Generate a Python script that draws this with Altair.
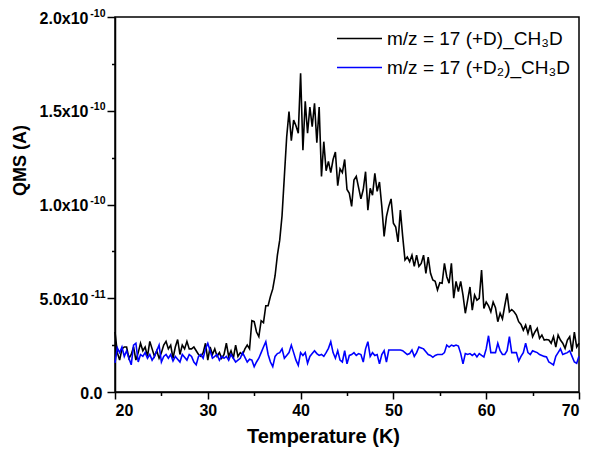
import altair as alt
import pandas as pd

# Temperature grid (K): 20 K to 70 K, sampled every 0.25 K
T_START = 20.0
T_STEP = 0.25

# QMS current in units of 1e-11 A
black_vals = [
    3.2, 2.1, 1.7, 2.3, 2.4, 2.4, 1.8, 2.0, 2.4, 1.7, 2.1, 2.6, 2.2, 2.4, 1.9, 2.7, 2.3, 1.9, 2.2, 1.8,
    2.1, 2.5, 2.7, 2.3, 2.5, 1.8, 2.4, 2.8, 2.0, 2.5, 2.3, 2.7, 2.3, 2.3, 2.4, 2.2, 2.0, 1.9, 2.1, 2.6,
    1.7, 2.4, 2.0, 2.3, 1.9, 2.1, 1.8, 2.0, 2.6, 1.9, 2.2, 1.8, 2.5, 1.9, 2.1, 2.0, 2.3, 2.5, 2.3, 3.8,
    3.75, 3.2, 2.95, 3.8, 3.7, 4.6, 4.6, 5.1, 5.5, 6.2, 7.3, 8.1, 9.4, 11.5, 13.6, 14.95, 13.4, 14.5, 14.2, 13.8,
    17.0, 12.9, 15.5, 13.8, 15.2, 14.15, 15.4, 13.3, 15.2, 11.5, 13.35, 11.8, 12.3, 11.7, 12.4, 12.8, 11.0, 11.9, 11.7, 12.4,
    10.8, 10.6, 9.9, 11.3, 11.5, 10.9, 10.3, 10.8, 11.75, 9.7, 10.86, 10.5, 11.66, 10.7, 11.2, 9.9, 8.3, 9.35, 9.9, 10.3,
    9.0, 8.8, 8.0, 9.7, 8.3, 7.04, 7.2, 6.95, 7.3, 6.7, 7.3, 6.7, 6.86, 7.3, 6.33, 7.2, 6.33, 5.97, 5.9, 5.44,
    5.83, 5.8, 6.86, 6.15, 5.8, 6.86, 5.0, 5.9, 5.35, 5.9, 5.17, 4.2, 4.9, 5.6, 4.37, 5.17, 4.9, 5.0, 6.5, 4.46,
    4.8, 4.6, 4.28, 4.8, 4.5, 3.75, 4.2, 3.9, 4.6, 5.26, 4.28, 4.4, 4.28, 4.1, 3.75, 3.6, 3.3, 3.57, 3.13, 3.57,
    2.95, 3.2, 3.4, 2.86, 3.04, 2.77, 2.8, 2.77, 2.6, 2.95, 2.4, 3.04, 2.77, 2.6, 2.33, 2.77, 2.95, 2.15, 3.2, 2.4,
    2.6,
]

blue_vals = [
    1.55, 2.35, 2.1, 2.4, 1.9, 2.2, 1.8, 1.45, 2.5, 2.6, 1.6, 2.0, 1.9, 2.1, 1.8, 2.0, 1.7, 1.9, 2.2, 2.5,
    1.6, 1.9, 2.0, 1.8, 2.0, 1.65, 1.9, 1.75, 1.6, 2.0, 1.85, 1.7, 2.0, 1.9, 1.6, 1.45, 1.9, 2.0, 1.8, 2.3,
    2.6, 2.2, 1.8, 1.9, 2.0, 1.7, 1.9, 1.8, 1.9, 1.7, 2.0, 1.8, 1.6, 1.7, 1.8, 2.1, 1.85, 1.6, 1.75, 1.7,
    1.35, 1.6, 1.8, 2.1, 2.4, 2.68, 2.0, 1.6, 1.35, 1.9, 2.05, 2.1, 2.3, 1.8, 1.95, 2.1, 2.5, 2.1, 1.7, 1.42,
    2.1, 1.95, 2.1, 1.53, 1.9, 2.05, 2.2, 2.05, 1.95, 2.0, 1.9, 2.1, 2.33, 2.68, 2.1, 1.8, 2.2, 1.7, 1.6, 2.2,
    1.5, 1.95, 2.0, 2.1, 1.95, 2.05, 2.0, 1.6, 2.3, 2.68, 1.9, 2.1, 1.95, 2.0, 1.5, 2.0, 2.2, 1.6, 2.24, 2.24,
    2.24, 2.24, 2.24, 2.24, 2.2, 2.1, 2.0, 2.05, 2.24, 1.9, 2.1, 2.4, 2.35, 2.3, 2.15, 2.0, 1.95, 1.85, 1.95, 2.0,
    2.0, 2.0, 2.1, 2.5, 2.4, 2.5, 2.45, 2.5, 2.45, 2.06, 1.5, 2.05, 2.0, 2.05, 1.95, 2.05, 1.87, 2.05, 1.95, 1.87,
    2.3, 3.0, 2.1, 2.1, 2.1, 2.6, 2.2, 2.0, 2.0, 2.2, 2.95, 2.1, 2.1, 2.1, 1.65, 1.9, 2.1, 2.6, 2.1, 2.0,
    2.2, 2.15, 2.1, 2.0, 1.95, 1.9, 1.87, 1.6, 1.53, 1.44, 1.9, 2.1, 2.3, 2.0, 2.05, 2.1, 2.2, 1.9, 1.6, 1.53,
    1.9,
]

label_d = "m/z = 17 (+D)_CH₃D"
label_d2 = "m/z = 17 (+D₂)_CH₃D"
series_labels = [label_d, label_d2]
series_colors = ["#000000", "#0000ff"]

x_ticks = [20, 25, 30, 35, 40, 45, 50, 55, 60, 65, 70]
y_ticks = [0, 2.5e-11, 5e-11, 7.5e-11, 1e-10, 1.25e-10, 1.5e-10, 1.75e-10, 2e-10]

temps = [T_START + T_STEP * i for i in range(len(black_vals))]
temps_b = [T_START + T_STEP * i for i in range(len(blue_vals))]

df = pd.DataFrame({
    "T": temps + temps_b,
    "I": [v * 1e-11 for v in black_vals] + [v * 1e-11 for v in blue_vals],
    "series": [label_d] * len(black_vals) + [label_d2] * len(blue_vals),
})

FONT = "Liberation Sans"
MINOR_Y = "round(datum.value*1e11/2.5) % 2 == 1"

# mantissa part of the y tick labels
y_main_expr = (
    "datum.value == 0 ? '0.0' : (" + MINOR_Y + ") ? '' : "
    "datum.value < 9e-11 ? format(datum.value*1e11, '.1f') + 'x10' : "
    "format(datum.value*1e10, '.1f') + 'x10'"
)
# exponent (superscript) part of the y tick labels
y_exp_expr = (
    "datum.value == 0 ? '' : (" + MINOR_Y + ") ? '' : "
    "datum.value < 9e-11 ? '-11' : '-10'"
)

x_scale = alt.Scale(domain=[20, 70], nice=False, zero=False)
y_scale = alt.Scale(domain=[0, 2e-10], nice=False, zero=True)

lines = alt.Chart(df).mark_line(strokeWidth=1.6, interpolate="linear").encode(
    x=alt.X(
        "T:Q",
        scale=x_scale,
        axis=alt.Axis(
            title="Temperature (K)",
            values=x_ticks,
            labelExpr="datum.value % 10 == 0 ? datum.value : ''",
            tickSize={"condition": {"test": "datum.value % 10 != 0", "value": 3.5}, "value": 7},
            grid=False,
            labelFontSize=16,
            labelFontWeight="bold",
            labelPadding=3,
            titleFontSize=20,
            titleFontWeight="bold",
            titleX=208,
            titleY=44,
            titleBaseline="middle",
        ),
    ),
    y=alt.Y(
        "I:Q",
        scale=y_scale,
        axis=alt.Axis(
            title="QMS (A)",
            orient="left",
            values=y_ticks,
            labelExpr=y_main_expr,
            tickSize={"condition": {"test": MINOR_Y, "value": 3.5}, "value": 8},
            grid=False,
            labelFontSize=16,
            labelFontWeight="bold",
            labelPadding={"condition": {"test": "datum.value == 0", "value": 5}, "value": 19},
            labelOffset=1,
            titleFontSize=18,
            titleFontWeight="bold",
            titleX=-95,
            titleY=143,
            titleAlign="center",
            titleBaseline="middle",
        ),
    ),
    color=alt.Color(
        "series:N",
        scale=alt.Scale(domain=series_labels, range=series_colors),
        sort=series_labels,
        legend=alt.Legend(
            title=None,
            orient="none",
            legendX=235,
            legendY=12,
            symbolType="M-3,0H3",
            symbolSize=225,
            symbolStrokeWidth=1.6,
            labelFontSize=19,
            labelFont=FONT,
            labelOffset=18,
            labelLimit=400,
            rowPadding=9,
            padding=0,
        ),
    ),
    order=alt.Order("T:Q"),
)

exponents = alt.Chart(df).mark_point(opacity=0).encode(
    y=alt.Y(
        "I:Q",
        scale=y_scale,
        axis=alt.Axis(
            title=None,
            orient="left",
            values=y_ticks,
            labelExpr=y_exp_expr,
            ticks=False,
            domain=False,
            grid=False,
            labelFontSize=10.5,
            labelFontWeight="bold",
            labelPadding=10,
            labelOffset=-4,
        ),
    ),
)

chart = alt.layer(lines, exponents).resolve_scale(
    y="shared"
).resolve_axis(
    y="independent"
).properties(
    width=464,
    height=375,
    autosize=alt.AutoSizeParams(type="none"),
    padding={"left": 107, "top": 9, "right": 4, "bottom": 56},
).configure_view(
    stroke="black",
    strokeWidth=1.5,
).configure_axis(
    domainColor="black",
    domainWidth=1.5,
    tickColor="black",
    tickWidth=1.5,
    labelColor="black",
    titleColor="black",
    labelFont=FONT,
    titleFont=FONT,
)

chart.save("out.html", embed_options={"renderer": "svg", "actions": False})
